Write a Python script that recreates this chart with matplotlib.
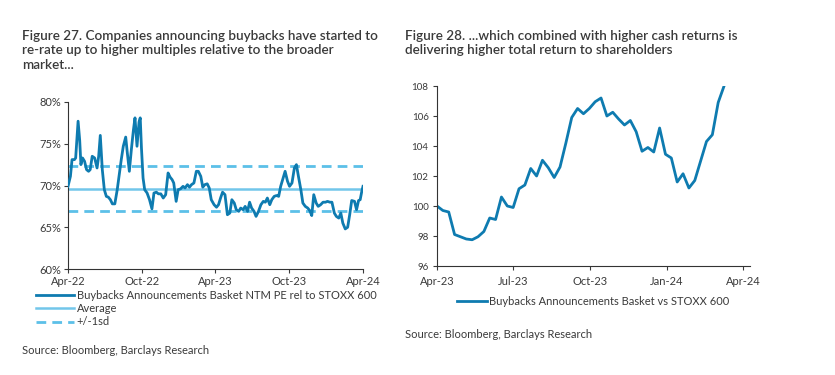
import numpy as np
import pandas as pd
import matplotlib
matplotlib.use("Agg")
from matplotlib import pyplot as plt
import matplotlib.dates as mdates
from matplotlib.ticker import FuncFormatter

# Figure 27: NTM PE relative to STOXX 600 (%), days since 1-Apr-2022
pe_days = [0, 6, 10, 16, 19, 25, 29, 32, 36, 41, 46, 51, 55, 60,
           66, 72, 76, 80, 85, 90, 95, 100, 105, 110, 116, 122, 127, 132,
           137, 143, 147, 152, 157, 162, 166, 171, 176, 179, 182, 186, 190, 196,
           202, 208, 213, 219, 224, 230, 236, 242, 248, 253, 258, 262, 268, 273,
           279, 285, 290, 296, 301, 306, 312, 318, 323, 329, 334, 339, 345, 350,
           355, 362, 368, 373, 378, 383, 389, 395, 401, 406, 412, 417, 423, 428,
           434, 439, 445, 450, 455, 461, 466, 472, 478, 484, 489, 494, 500, 505,
           511, 517, 522, 527, 533, 538, 544, 549, 555, 561, 566, 571, 577, 582,
           588, 594, 599, 604, 609, 615, 620, 626, 632, 638, 643, 649, 654, 660,
           665, 671, 676, 681, 687, 693, 698, 703, 710, 715, 720, 724, 728, 731]
pe_rel = [69.9, 71.1, 73.1, 73.1, 73.3, 77.7, 75.4, 72.5, 73.3, 72.9, 71.9, 71.7, 71.9, 73.5,
          73.3, 72.1, 73.5, 76.0, 71.9, 69.5, 68.7, 68.6, 68.3, 67.8, 67.8, 69.5, 71.3, 73.1,
          74.7, 75.8, 73.9, 71.7, 74.3, 76.6, 78.1, 74.7, 77.6, 78.1, 74.5, 70.9, 69.5, 69.1,
          68.3, 67.2, 69.1, 69.2, 69.0, 69.0, 68.5, 68.9, 71.5, 71.0, 70.7, 70.3, 68.1, 69.5,
          69.6, 69.9, 69.7, 70.1, 69.8, 70.1, 70.3, 71.7, 71.7, 71.1, 69.8, 70.1, 70.2, 69.7,
          68.3, 67.7, 67.4, 67.7, 68.5, 69.2, 68.9, 66.5, 66.7, 68.3, 67.9, 67.1, 66.9, 67.3,
          67.1, 67.5, 66.9, 68.0, 67.3, 66.9, 66.3, 66.9, 67.7, 68.1, 68.0, 68.5, 67.7, 68.3,
          68.7, 68.8, 68.7, 69.9, 70.9, 71.7, 70.5, 69.9, 70.3, 72.1, 72.5, 71.1, 69.5, 67.9,
          67.5, 67.3, 67.0, 66.4, 68.9, 67.9, 67.5, 67.7, 68.0, 68.0, 68.1, 68.0, 68.0, 66.7,
          66.3, 66.1, 66.7, 65.5, 64.8, 65.0, 66.5, 68.2, 68.1, 67.1, 68.2, 68.3, 69.3, 69.9]
pe_avg = 69.6
pe_sd = 2.7
pe_dates = pd.Timestamp("2022-04-01") + pd.to_timedelta(pe_days, unit="D")

# Figure 28: basket vs STOXX 600 total return, weekly
tr_rel = [100.0, 99.7, 99.6, 98.1, 97.95, 97.8, 97.75, 97.95, 98.3, 99.2, 99.1, 100.6, 100.0,
          99.9, 101.15, 101.4, 102.5, 102.0, 103.05, 102.55, 101.9, 102.6, 104.2, 105.9, 106.5,
          106.15, 106.5, 106.95, 107.2, 106.0, 106.25, 105.8, 105.4, 105.7, 104.95, 103.65,
          103.9, 103.6, 105.2, 103.45, 103.2, 101.6, 102.15, 101.2, 101.7, 103.0, 104.3,
          104.75, 106.9, 108.0]
tr_dates = pd.date_range("2023-04-01", periods=len(tr_rel), freq="7D")

DARK = "#0E7BB0"
LIGHT = "#72C6EA"
DASH = "#5CC0E8"
TXT = "#3a3a3a"
FONT = ["Lato", "DejaVu Sans"]

plt.rcParams["font.family"] = FONT
plt.rcParams["text.color"] = TXT
plt.rcParams["xtick.color"] = TXT
plt.rcParams["ytick.color"] = TXT
plt.rcParams["axes.edgecolor"] = "#333333"

fig = plt.figure(figsize=(8.35, 3.75), dpi=100)
W, H = 835.0, 375.0

def axes_px(x0, x1, ytop, ybot):
    return fig.add_axes([x0 / W, 1 - ybot / H, (x1 - x0) / W, (ybot - ytop) / H])

# ---- left chart
ax1 = axes_px(68, 363, 102, 269)
ax1.plot(pe_dates, pe_rel, color=DARK, lw=2.0, label="Buybacks Announcements Basket NTM PE rel to STOXX 600", zorder=3)
ax1.axhline(pe_avg, color=LIGHT, lw=1.8, label="Average", zorder=2)
ax1.axhline(pe_avg + pe_sd, color=DASH, lw=2.0, ls=(0, (3.5, 2.2)), label="+/-1sd", zorder=2)
ax1.axhline(pe_avg - pe_sd, color=DASH, lw=2.0, ls=(0, (3.5, 2.2)), zorder=2)
ax1.set_ylim(60, 80)
ax1.set_yticks([60, 65, 70, 75, 80])
ax1.yaxis.set_major_formatter(FuncFormatter(lambda v, p: "%d%%" % v))
ax1.set_xlim(pd.Timestamp("2022-04-01"), pd.Timestamp("2024-04-01"))
ax1.set_xticks(pd.to_datetime(["2022-04-01", "2022-10-01", "2023-04-01", "2023-10-01", "2024-04-01"]))
ax1.xaxis.set_major_formatter(mdates.DateFormatter("%b-%y"))
for s in ["top", "right"]:
    ax1.spines[s].set_visible(False)
ax1.tick_params(labelsize=8, length=3, width=0.8, pad=2)
fig.legend(*ax1.get_legend_handles_labels(), loc="upper left", bbox_to_anchor=(36 / W, 1 - 290 / H),
           frameon=False, fontsize=8, handlelength=3.4, handletextpad=0.25, labelspacing=0.2,
           borderpad=0, borderaxespad=0)

# ---- right chart
ax2 = axes_px(437, 750, 86, 266)
ax2.plot(tr_dates, tr_rel, color=DARK, lw=2.0, label="Buybacks Announcements Basket vs STOXX 600")
ax2.set_ylim(96, 108)
ax2.set_yticks(np.arange(96, 109, 2))
ax2.set_xlim(pd.Timestamp("2023-04-01"), pd.Timestamp("2024-04-09"))
ax2.set_xticks(pd.to_datetime(["2023-04-01", "2023-07-01", "2023-10-01", "2024-01-01", "2024-04-01"]))
ax2.xaxis.set_major_formatter(mdates.DateFormatter("%b-%y"))
for s in ["top", "right"]:
    ax2.spines[s].set_visible(False)
ax2.tick_params(axis="x", labelsize=8, length=3, width=0.8, pad=4)
ax2.tick_params(axis="y", labelsize=7, length=3, width=0.8, pad=3)
fig.legend(*ax2.get_legend_handles_labels(), loc="upper left", bbox_to_anchor=(457 / W, 1 - 296 / H),
           frameon=False, fontsize=8, handlelength=2.7, handletextpad=0.2, borderpad=0, borderaxespad=0)

# ---- titles and sources
fig.text(22 / W, 1 - 30 / H, "Figure 27. Companies announcing buybacks have started to\n"
         "re-rate up to higher multiples relative to the broader\nmarket...",
         fontsize=9.7, weight="semibold", va="top", linespacing=1.25)
fig.text(405 / W, 1 - 30 / H, "Figure 28. ...which combined with higher cash returns is\n"
         "delivering higher total return to shareholders",
         fontsize=9.7, weight="semibold", va="top", linespacing=1.25)
fig.text(22 / W, 1 - 351 / H, "Source: Bloomberg, Barclays Research", fontsize=8, va="center")
fig.text(405 / W, 1 - 335 / H, "Source: Bloomberg, Barclays Research", fontsize=8, va="center")

fig.savefig("out.png", dpi=100)
